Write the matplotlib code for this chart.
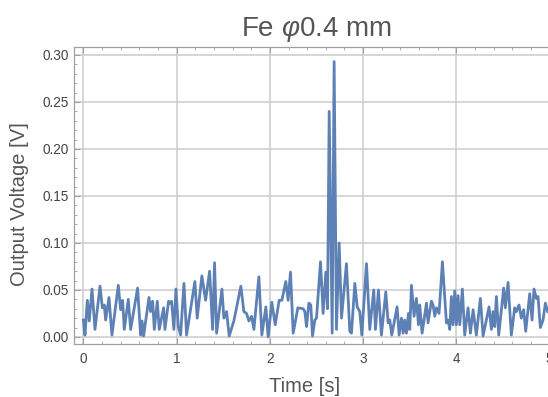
import numpy as np
import matplotlib
matplotlib.use("Agg")
import matplotlib.pyplot as plt
from matplotlib.ticker import MultipleLocator, FormatStrFormatter

plt.rcParams['font.family'] = ['Liberation Sans', 'DejaVu Sans']
plt.rcParams['mathtext.fontset'] = 'custom'
plt.rcParams['mathtext.rm'] = 'Liberation Sans'
plt.rcParams['mathtext.it'] = 'Liberation Sans:italic'

title = r"Fe $\varphi$0.4 mm"
xlabel = "Time [s]"
ylabel = "Output Voltage [V]"

time_s = [0.000, 0.018, 0.043, 0.064, 0.093, 0.125, 0.179, 0.204, 0.225, 0.239,
          0.275, 0.307, 0.375, 0.400, 0.421, 0.439, 0.482, 0.507, 0.582, 0.614,
          0.629, 0.646, 0.704, 0.721, 0.743, 0.761, 0.793, 0.814, 0.861, 0.875,
          0.914, 0.929, 0.946, 0.971, 0.993, 1.018, 1.043, 1.079, 1.107, 1.196,
          1.221, 1.271, 1.311, 1.354, 1.386, 1.407, 1.429, 1.486, 1.507, 1.536,
          1.564, 1.614, 1.689, 1.721, 1.750, 1.775, 1.804, 1.829, 1.882, 1.914,
          1.957, 1.982, 2.021, 2.057, 2.100, 2.129, 2.171, 2.196, 2.221, 2.250,
          2.300, 2.357, 2.375, 2.393, 2.418, 2.439, 2.457, 2.482, 2.500, 2.543,
          2.571, 2.600, 2.618, 2.636, 2.668, 2.689, 2.714, 2.743, 2.768, 2.821,
          2.857, 2.875, 2.911, 2.936, 2.964, 2.986, 3.036, 3.071, 3.114, 3.132,
          3.164, 3.196, 3.243, 3.268, 3.286, 3.307, 3.364, 3.386, 3.411, 3.429,
          3.446, 3.464, 3.486, 3.500, 3.518, 3.546, 3.571, 3.593, 3.607, 3.632,
          3.679, 3.696, 3.732, 3.750, 3.768, 3.786, 3.814, 3.850, 3.893, 3.911,
          3.929, 3.946, 3.964, 3.982, 4.000, 4.018, 4.036, 4.064, 4.089, 4.125,
          4.150, 4.179, 4.214, 4.257, 4.286, 4.350, 4.375, 4.393, 4.411, 4.429,
          4.454, 4.507, 4.525, 4.554, 4.589, 4.625, 4.643, 4.671, 4.696, 4.721,
          4.743, 4.786, 4.811, 4.832, 4.857, 4.875, 4.900, 4.929, 4.954, 4.979]

voltage_v = [0.018, 0.002, 0.039, 0.017, 0.051, 0.008, 0.054, 0.031, 0.034, 0.018,
             0.042, 0.002, 0.055, 0.029, 0.039, 0.008, 0.040, 0.008, 0.052, 0.002,
             0.017, 0.001, 0.042, 0.027, 0.038, 0.008, 0.038, 0.008, 0.031, 0.008,
             0.038, 0.036, 0.038, 0.008, 0.051, 0.011, 0.002, 0.057, 0.002, 0.059,
             0.020, 0.065, 0.039, 0.070, 0.008, 0.079, 0.004, 0.051, 0.020, 0.027,
             0.001, 0.017, 0.054, 0.027, 0.025, 0.017, 0.022, 0.008, 0.064, 0.002,
             0.032, 0.000, 0.037, 0.013, 0.039, 0.039, 0.059, 0.039, 0.069, 0.004,
             0.031, 0.030, 0.027, 0.011, 0.036, 0.034, 0.001, 0.018, 0.020, 0.080,
             0.025, 0.069, 0.030, 0.240, 0.004, 0.293, 0.008, 0.100, 0.020, 0.078,
             0.006, 0.004, 0.057, 0.032, 0.027, 0.002, 0.078, 0.008, 0.050, 0.008,
             0.050, 0.002, 0.048, 0.015, 0.018, 0.002, 0.032, 0.002, 0.020, 0.004,
             0.018, 0.004, 0.025, 0.008, 0.055, 0.022, 0.041, 0.013, 0.034, 0.004,
             0.036, 0.015, 0.038, 0.034, 0.022, 0.031, 0.025, 0.080, 0.015, 0.018,
             0.008, 0.043, 0.013, 0.049, 0.013, 0.044, 0.013, 0.051, 0.002, 0.031,
             0.004, 0.029, 0.002, 0.041, 0.001, 0.032, 0.008, 0.027, 0.011, 0.043,
             0.002, 0.052, 0.031, 0.058, 0.002, 0.031, 0.027, 0.034, 0.020, 0.029,
             0.006, 0.046, 0.018, 0.051, 0.041, 0.043, 0.010, 0.018, 0.036, 0.027]

W, H = 548, 397
fig = plt.figure(figsize=(W / 100, H / 100), dpi=100)
left_px, right_px, top_px, bottom_px = 74, 559, 47, 344
ax = fig.add_axes([left_px / W, 1 - bottom_px / H,
                   (right_px - left_px) / W, (bottom_px - top_px) / H])

ax.plot(time_s, voltage_v, color='#5E81B5', lw=2.0, solid_joinstyle='round')

ax.set_xlim(-0.1, 5.1)
ax.set_ylim(-0.0075, 0.3085)
ax.xaxis.set_major_locator(MultipleLocator(1))
ax.xaxis.set_minor_locator(MultipleLocator(0.2))
ax.yaxis.set_major_locator(MultipleLocator(0.05))
ax.yaxis.set_minor_locator(MultipleLocator(0.01))
ax.yaxis.set_major_formatter(FormatStrFormatter('%.2f'))

ax.grid(True, which='major', color='#cccccc', lw=1.1)
ax.set_axisbelow(True)
for s in ax.spines.values():
    s.set_color('#a0a0a0')
    s.set_linewidth(0.9)
ax.tick_params(which='both', direction='in', top=True, right=True,
               color='#a0a0a0', labelcolor='#444444', labelsize=9.8)
ax.tick_params(which='major', length=4, width=0.8)
ax.tick_params(which='minor', length=2.2, width=0.6)
ax.tick_params(axis='x', pad=6)
ax.tick_params(axis='y', pad=4)

fig.text(316 / W, 1 - 30 / H, title, ha='center', va='center',
         fontsize=20, color='#555555')
fig.text(305 / W, 1 - 386 / H, xlabel, ha='center', va='center',
         fontsize=14.5, color='#555555')
fig.text(20 / W, 1 - 204 / H, ylabel, ha='center', va='center',
         rotation=90, fontsize=14.5, color='#555555')

fig.savefig('out.png', dpi=100)
